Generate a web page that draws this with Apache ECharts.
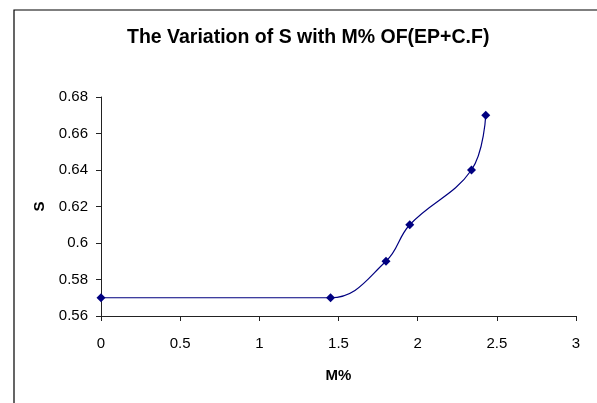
<!DOCTYPE html>
<html><head><meta charset="utf-8">
<script src="https://cdn.jsdelivr.net/npm/echarts@6/dist/echarts.min.js"></script>
<style>html,body{margin:0;padding:0;background:#fff}#c{width:597px;height:403px}</style>
</head><body><div id="c"></div>
<script>
const mValues = [0, 1.45, 1.8, 1.95, 2.34, 2.43];
const sValues = [0.57, 0.57, 0.59, 0.61, 0.64, 0.67];
const titleText = 'The Variation of S with M% OF(EP+C.F)';
const xName = 'M%';
const yName = 'S';

const chart = echarts.init(document.getElementById('c'), null, {renderer: 'canvas'});
const font = 'Liberation Sans, Arial, sans-serif';
chart.setOption({
  animation: false,
  backgroundColor: '#fff',
  title: {
    text: titleText, left: 127, top: 28, padding: 0,
    textStyle: {fontFamily: font, fontSize: 19.5, fontWeight: 'bold', color: '#000'}
  },
  grid: {left: 101, right: 21, top: 97, bottom: 87, containLabel: false},
  graphic: [{
    type: 'rect', shape: {x: 14, y: 10, width: 700, height: 500},
    style: {fill: 'none', stroke: '#000', lineWidth: 1.2}, silent: true
  }],
  xAxis: {
    type: 'value', min: 0, max: 3, interval: 0.5,
    name: xName, nameLocation: 'middle', nameGap: 52,
    nameTextStyle: {fontFamily: font, fontSize: 15, fontWeight: 'bold', color: '#000'},
    axisLine: {show: true, lineStyle: {color: '#222', width: 1}},
    axisTick: {show: true, length: 5, inside: false, lineStyle: {color: '#222'}},
    axisLabel: {fontFamily: font, fontSize: 15, color: '#000', margin: 20},
    splitLine: {show: false}
  },
  yAxis: {
    type: 'value', min: 0.56, max: 0.68, interval: 0.02,
    name: yName, nameLocation: 'middle', nameGap: 54, nameRotate: 90,
    nameTextStyle: {fontFamily: font, fontSize: 15, fontWeight: 'bold', color: '#000'},
    axisLine: {show: true, lineStyle: {color: '#222', width: 1}},
    axisTick: {show: true, length: 5, lineStyle: {color: '#222'}},
    axisLabel: {fontFamily: font, fontSize: 15, color: '#000', margin: 13,
      formatter: v => String(parseFloat(v.toFixed(2)))},
    splitLine: {show: false}
  },
  series: [{
    type: 'line',
    data: mValues.map((m, i) => [m, sValues[i]]),
    smooth: 0.4,
    symbol: 'diamond', symbolSize: 9,
    lineStyle: {color: '#000080', width: 1.2},
    itemStyle: {color: '#000080'}
  }]
});
</script></body></html>
